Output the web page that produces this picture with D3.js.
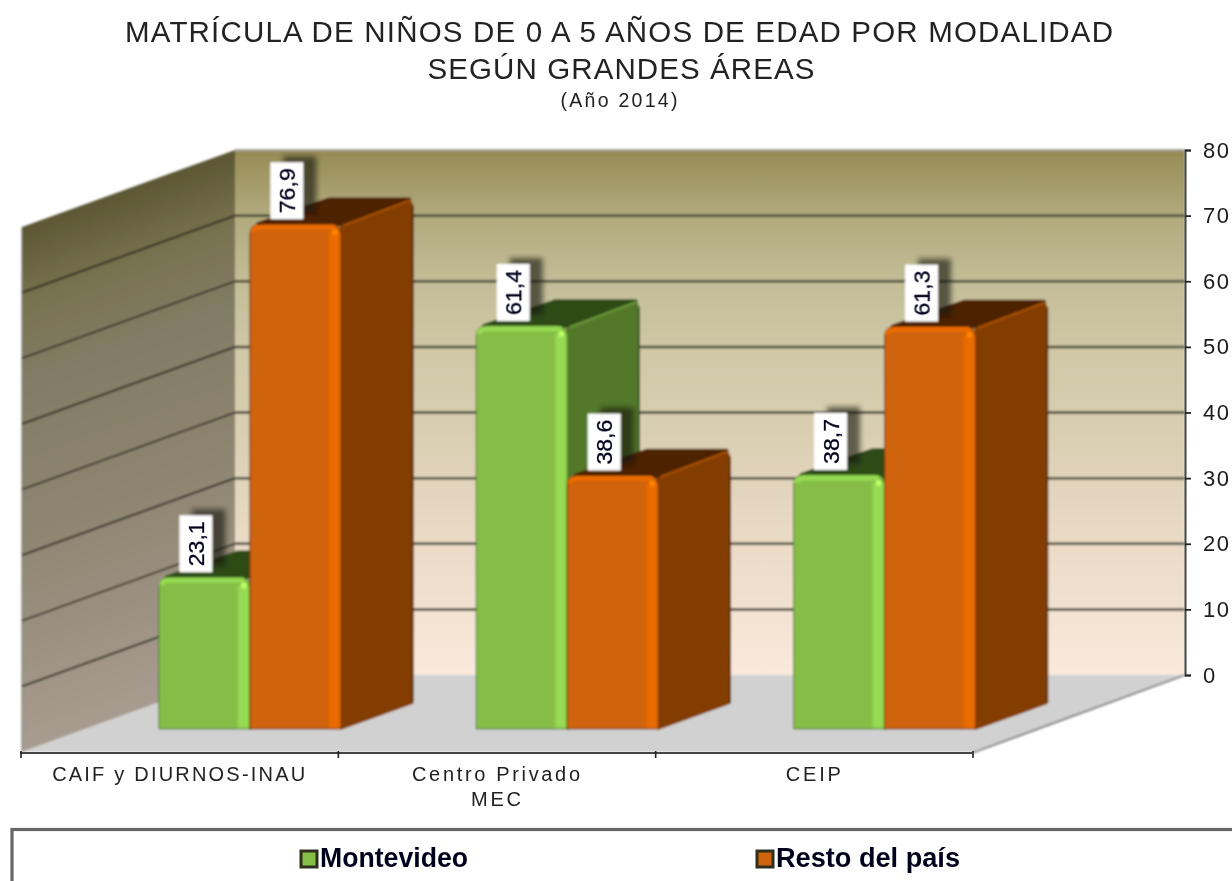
<!DOCTYPE html>
<html>
<head>
<meta charset="utf-8">
<script src="https://cdn.jsdelivr.net/npm/d3@7"></script>
<style>
    html, body { margin: 0; padding: 0; background: #fff; overflow: hidden; }
    text { font-family: "Liberation Sans", Arial, sans-serif; fill: #222; }
</style>
</head>
<body>
<div id="chart"></div>
<script>
var categories = ["CAIF y DIURNOS-INAU", "Centro Privado|MEC", "CEIP"];
var seriesNames = ["Montevideo", "Resto del país"];
var montevideo = [23.1, 61.4, 38.7];
var resto = [76.9, 38.6, 61.3];
var yTicks = [0, 10, 20, 30, 40, 50, 60, 70, 80];

var width = 1232, height = 881;
var depthX = 213, depthY = 77;   // shift of the back wall against the front edge
var floorY = 752;
var barZ0 = 0.3, barZ1 = 0.635;

var svg = d3.select("#chart")
    .append("svg")
    .attr("width", width)
    .attr("height", height);

var defs = svg.append("defs");

function linearGradient(id, x1, y1, x2, y2, stops) {
    var g = defs.append("linearGradient")
        .attr("id", id)
        .attr("gradientUnits", "userSpaceOnUse")
        .attr("x1", x1).attr("y1", y1)
        .attr("x2", x2).attr("y2", y2);
    stops.forEach(function(s) {
        g.append("stop").attr("offset", s[0]).attr("stop-color", s[1]);
    });
}

linearGradient("backWall", 0, 150, 0, 675, [
    [0, "#968b55"], [0.12, "#b0a97c"], [0.25, "#c3bd97"], [0.4, "#d1c9a8"],
    [0.55, "#dacfb3"], [0.7, "#e7d8c2"], [0.85, "#f0e0cf"], [1, "#fbeadc"]
]);
linearGradient("sideWall", 22, 228, 189.5, 691.4, [
    [0, "#5c5734"], [0.14, "#77724f"], [0.3, "#827d66"], [0.6, "#8f8672"], [1, "#a89c90"]
]);

function blurFilter(id, sd) {
    var f = defs.append("filter").attr("id", id)
        .attr("filterUnits", "userSpaceOnUse")
        .attr("x", 0).attr("y", 0).attr("width", width).attr("height", height);
    f.append("feGaussianBlur").attr("stdDeviation", sd);
}
blurFilter("soft", 0.8);
blurFilter("softText", 0.55);
blurFilter("shadowBlur", 2.4);
blurFilter("stripBlur", 1.2);

var root = svg.append("g").attr("filter", "url(#soft)");
var textLayer = svg.append("g").attr("filter", "url(#softText)");

var xScale = d3.scaleBand().domain(categories).range([20, 972]);
var yScale = d3.scaleLinear().domain([0, 80]).range([675, 150]);
var seriesScale = d3.scaleBand().domain(seriesNames).range([75, 257]);

function px(x, z) {
    return x + depthX * z;
}
function py(v, z) {
    return floorY - depthY * z - (yScale(0) - yScale(v));
}
function pts(list) {
    return list.map(function(p) { return p.join(","); }).join(" ");
}

// walls and floor
var x0 = xScale.range()[0] + 2, x1 = xScale.range()[1];

root.append("polygon")
    .attr("points", pts([[px(x0, 1), py(80, 1)], [px(x1, 1), py(80, 1)], [px(x1, 1), py(0, 1)], [px(x0, 1), py(0, 1)]]))
    .attr("fill", "url(#backWall)");
root.append("polygon")
    .attr("points", pts([[px(x0, 0), py(80, 0)], [px(x0, 1), py(80, 1)], [px(x0, 1), py(0, 1)], [px(x0, 0), py(0, 0)]]))
    .attr("fill", "url(#sideWall)");
root.append("polygon")
    .attr("points", pts([[px(x0, 0), py(0, 0)], [px(x0, 1), py(0, 1)], [px(x1, 1), py(0, 1)], [px(x1, 0), py(0, 0)]]))
    .attr("fill", "#d1d1d1");

root.append("line")
    .attr("x1", px(x0, 1)).attr("y1", py(80, 1))
    .attr("x2", px(x1, 1)).attr("y2", py(80, 1))
    .attr("stroke", "#a9a9a0").attr("stroke-width", 2);
root.append("line")
    .attr("x1", px(x0, 0)).attr("y1", py(80, 0))
    .attr("x2", px(x0, 0)).attr("y2", py(0, 0))
    .attr("stroke", "#777").attr("stroke-width", 1);

// gridlines
var grid = root.append("g");
grid.selectAll(".gridBack")
    .data(yTicks.filter(function(d) { return d > 0 && d < 80; }))
    .enter()
    .append("line")
    .attr("class", "gridBack")
    .attr("x1", px(x0, 1)).attr("x2", px(x1, 1))
    .attr("y1", function(d) { return py(d, 1); })
    .attr("y2", function(d) { return py(d, 1); })
    .attr("stroke", "#414033").attr("stroke-width", 2.5);
grid.selectAll(".gridSide")
    .data(yTicks.filter(function(d) { return d > 0 && d < 80; }))
    .enter()
    .append("line")
    .attr("class", "gridSide")
    .attr("x1", px(x0, 1)).attr("x2", px(x0, 0))
    .attr("y1", function(d) { return py(d, 1); })
    .attr("y2", function(d) { return py(d, 0); })
    .attr("stroke", "#26251c").attr("stroke-width", 1.8);

// floor edges
root.append("line")
    .attr("x1", px(x1, 0)).attr("y1", py(0, 0) + 1)
    .attr("x2", px(x1, 1)).attr("y2", py(0, 1))
    .attr("stroke", "#777").attr("stroke-width", 1.8);

// bars
var barStyle = {
    "Montevideo": { front: "#85bd47", light: "#97db53", side: "#53782b", top: "#2f4c17", edge: "#4a7a2a", rim: "#6b9a3a" },
    "Resto del país": { front: "#d06307", light: "#ea6c05", side: "#843d00", top: "#4d2200", edge: "#6a3000", rim: "#a85000" }
};

function frontPath(xa, xb, yTop, yBase, r) {
    var p = d3.path();
    p.moveTo(xa, yBase);
    p.lineTo(xa, yTop + r);
    p.quadraticCurveTo(xa, yTop, xa + r, yTop);
    p.lineTo(xb - r, yTop);
    p.quadraticCurveTo(xb, yTop, xb, yTop + r);
    p.lineTo(xb, yBase);
    p.closePath();
    return p.toString();
}

function drawBar(cat, name, value) {
    var st = barStyle[name];
    var xa = px(xScale(cat) + seriesScale(name), barZ0);
    var xb = xa + seriesScale.bandwidth();
    var yTop = py(value, barZ0), yBase = py(0, barZ0);
    var dx = depthX * (barZ1 - barZ0), dy = depthY * (barZ1 - barZ0);
    var g = root.append("g");

    g.append("polygon")
        .attr("points", pts([[xa + 8, yTop], [xb, yTop], [xb + dx - 3, yTop - dy + 1], [xa + dx + 8, yTop - dy + 1]]))
        .attr("fill", st.top)
        .attr("stroke", st.top).attr("stroke-width", 4).attr("stroke-linejoin", "round");
    g.append("polygon")
        .attr("points", pts([[xb, yTop + 3], [xb + dx - 2, yTop - dy + 3], [xb + dx, yTop - dy + 7], [xb + dx, yBase - dy], [xb, yBase]]))
        .attr("fill", st.side)
        .attr("stroke", st.side).attr("stroke-width", 2).attr("stroke-linejoin", "round");
    // dark outline down the back edge of the side
    g.append("line")
        .attr("x1", xb + dx + 0.5).attr("y1", yTop - dy + 7)
        .attr("x2", xb + dx + 0.5).attr("y2", yBase - dy)
        .attr("stroke", st.top).attr("stroke-width", 1.6);
    g.append("line")
        .attr("x1", xb + 3).attr("y1", yTop + 1)
        .attr("x2", xb + dx - 3).attr("y2", yTop - dy + 2)
        .attr("stroke", st.rim).attr("stroke-width", 2.2).attr("stroke-linecap", "round");

    g.append("path")
        .attr("d", frontPath(xa, xb, yTop, yBase, 10))
        .attr("fill", st.front)
        .attr("stroke", st.edge).attr("stroke-width", 1);
    g.append("rect")
        .attr("x", xb - 12).attr("y", yTop + 8)
        .attr("width", 11).attr("height", yBase - yTop - 9)
        .attr("fill", st.light)
        .attr("filter", "url(#stripBlur)");
    g.append("path")
        .attr("d", "M" + (xa + 3) + "," + (yTop + 8) + "Q" + (xa + 3) + "," + (yTop + 3) + " " + (xa + 10) + "," + (yTop + 3) + "L" + (xb - 6) + "," + (yTop + 3))
        .attr("fill", "none")
        .attr("stroke", st.light).attr("stroke-width", 5);
    g.append("circle")
        .attr("cx", xb - 6).attr("cy", yTop + 8).attr("r", 3)
        .attr("fill", d3.color(st.light).brighter(0.6));
}

categories.forEach(function(c, i) {
    drawBar(c, seriesNames[0], montevideo[i]);
    drawBar(c, seriesNames[1], resto[i]);
});

// value labels, rotated, white box with a soft shadow
function drawLabel(cat, name, value) {
    var xa = px(xScale(cat) + seriesScale(name), barZ0);
    var cx = xa + 37;
    var yBottom = py(value, barZ0) - 5;
    var boxW = 33, boxH = 57;
    root.append("rect")
        .attr("x", cx - boxW / 2 + 13).attr("y", yBottom - boxH - 6)
        .attr("width", boxW).attr("height", boxH)
        .attr("fill", "#15150a").attr("opacity", 0.62)
        .attr("filter", "url(#shadowBlur)");
    root.append("rect")
        .attr("x", cx - boxW / 2).attr("y", yBottom - boxH)
        .attr("width", boxW).attr("height", boxH)
        .attr("fill", "#fff");
    textLayer.append("text")
        .attr("transform", "translate(" + (cx + 8) + "," + (yBottom - boxH / 2) + ") rotate(-90)")
        .attr("text-anchor", "middle")
        .attr("font-size", 22)
        .attr("textLength", 45)
        .attr("lengthAdjust", "spacingAndGlyphs")
        .attr("stroke", "#10102a").attr("stroke-width", 0.3)
        .style("fill", "#05051c")
        .text(String(value).replace(".", ","));
}

categories.forEach(function(c, i) {
    drawLabel(c, seriesNames[0], montevideo[i]);
    drawLabel(c, seriesNames[1], resto[i]);
});

// right axis
var yAxis = d3.axisRight().scale(yScale).tickValues(yTicks).tickSize(6).tickPadding(12);
var yAxisG = textLayer.append("g")
    .attr("transform", "translate(" + px(x1, 1) + ",0)")
    .call(yAxis);
yAxisG.select(".domain").attr("stroke", "#444").attr("stroke-width", 2);
yAxisG.selectAll(".tick line").attr("stroke", "#222").attr("stroke-width", 1.8);
yAxisG.selectAll(".tick text")
    .attr("font-family", "Liberation Sans")
    .attr("font-size", 22)
    .attr("letter-spacing", 1.5)
    .style("fill", "#1a1a1a");

// bottom axis line, ticks on band edges
textLayer.append("line")
    .attr("x1", px(x0, 0) - 2).attr("y1", floorY + 1)
    .attr("x2", px(x1, 0)).attr("y2", floorY + 1)
    .attr("stroke", "#444").attr("stroke-width", 2);
var edges = categories.map(function(c) { return xScale(c); }).concat([x1]);
textLayer.selectAll(".catTick")
    .data(edges)
    .enter()
    .append("line")
    .attr("class", "catTick")
    .attr("x1", function(d) { return d + 1; })
    .attr("x2", function(d) { return d + 1; })
    .attr("y1", floorY - 1)
    .attr("y2", floorY + 6)
    .attr("stroke", "#222").attr("stroke-width", 1.6);

// category labels
function stretchedText(str, xc, yb, size, len) {
    return textLayer.append("text")
        .attr("x", xc).attr("y", yb)
        .attr("text-anchor", "middle")
        .attr("font-size", size)
        .attr("textLength", len)
        .attr("lengthAdjust", "spacing")
        .text(str);
}

var catWidths = [[253], [168, 50], [55]];
categories.forEach(function(c, i) {
    c.split("|").forEach(function(line, j) {
        stretchedText(line, xScale(c) + xScale.bandwidth() / 2, 781 + j * 25, 20, catWidths[i][j]);
    });
});

// title
stretchedText("MATRÍCULA DE NIÑOS DE 0 A 5 AÑOS DE EDAD POR MODALIDAD", 619, 42, 29.5, 988);
stretchedText("SEGÚN GRANDES ÁREAS", 621, 79, 29.5, 387);
stretchedText("(Año 2014)", 619, 107, 19.5, 117);

// legend
textLayer.append("rect")
    .attr("x", 12).attr("y", 829.5)
    .attr("width", 1240).attr("height", 80)
    .attr("fill", "#fff")
    .attr("stroke", "#666").attr("stroke-width", 3.2);

var legendX = d3.scaleOrdinal().domain(seriesNames).range([300, 756]);
var legendLen = d3.scaleOrdinal().domain(seriesNames).range([148, 184]);

seriesNames.forEach(function(name) {
    var st = barStyle[name];
    textLayer.append("rect")
        .attr("x", legendX(name) + 1).attr("y", 851)
        .attr("width", 16).attr("height", 16)
        .attr("fill", st.front)
        .attr("stroke", "#2e2e1a").attr("stroke-width", 3);
    textLayer.append("text")
        .attr("x", legendX(name) + 20).attr("y", 867)
        .attr("font-size", 27)
        .attr("textLength", legendLen(name))
        .attr("lengthAdjust", "spacingAndGlyphs")
        .style("font-weight", "bold")
        .style("fill", "#05051c")
        .text(name);
});
</script>
</body>
</html>
